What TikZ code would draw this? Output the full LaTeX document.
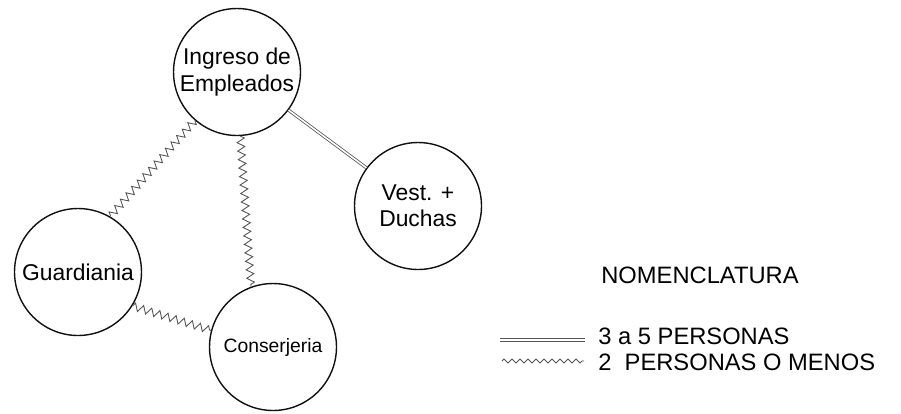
\documentclass[tikz,border=0pt]{standalone}
\usepackage{fontspec}
\setmainfont{Liberation Sans}
\usepackage{tikz}
\usetikzlibrary{positioning,decorations.pathmorphing}
\definecolor{ink}{HTML}{111111}
\definecolor{wire}{HTML}{555555}
\tikzset{
    area/.style={circle, draw=ink, line width=0.8pt, minimum size=2.54cm, inner sep=0pt, align=center, font=\fontsize{13}{15}\selectfont},
    many/.style={draw=wire, line width=0.45pt, double, double distance=0.9pt},
    few/.style={draw=wire, line width=0.5pt, decorate, decoration={zigzag, amplitude=0.075cm, segment length=0.17cm}},
    fewkey/.style={draw=wire, line width=0.45pt, decorate, decoration={zigzag, amplitude=0.04cm, segment length=0.16cm}},
    keytext/.style={anchor=west, inner sep=0pt, font=\fontsize{13.5}{15}\selectfont}
}
\begin{document}
\begin{tikzpicture}[x=0.02cm, y=-0.02cm]
\useasboundingbox (0,0) rectangle (901,413);

% Areas
\node[area] at (237,72) (ing) {Ingreso de\\Empleados};
\node[area] at (418,206) (ves) {Vest. +\\Duchas};
\node[area] at (78,272) (gua) {Guardiania};
\node[area, font=\fontsize{11}{13}\selectfont] at (273,347) (con) {Conserjeria};

% Flows
\draw[many] (ing) -- (ves);
\draw[few] (ing.229) -- (gua.60);
\draw[few] (ing.273) -- (con.110);
\draw[few] (gua.-32) -- (con.165);

% Legend
\node[keytext] at (601,275) (nom) {NOMENCLATURA};
\node[keytext] at (598,336) (k1) {3 a 5 PERSONAS};
\node[keytext] at (598,362) (k2) {2\ \ PERSONAS O MENOS};
\coordinate (a1) at (500,340);
\coordinate (b1) at (585,340);
\coordinate (a2) at (502,361);
\coordinate (b2) at (584,361);
\draw[many] (a1) -- (b1);
\draw[fewkey] (a2) -- (b2);

\end{tikzpicture}
\end{document}
